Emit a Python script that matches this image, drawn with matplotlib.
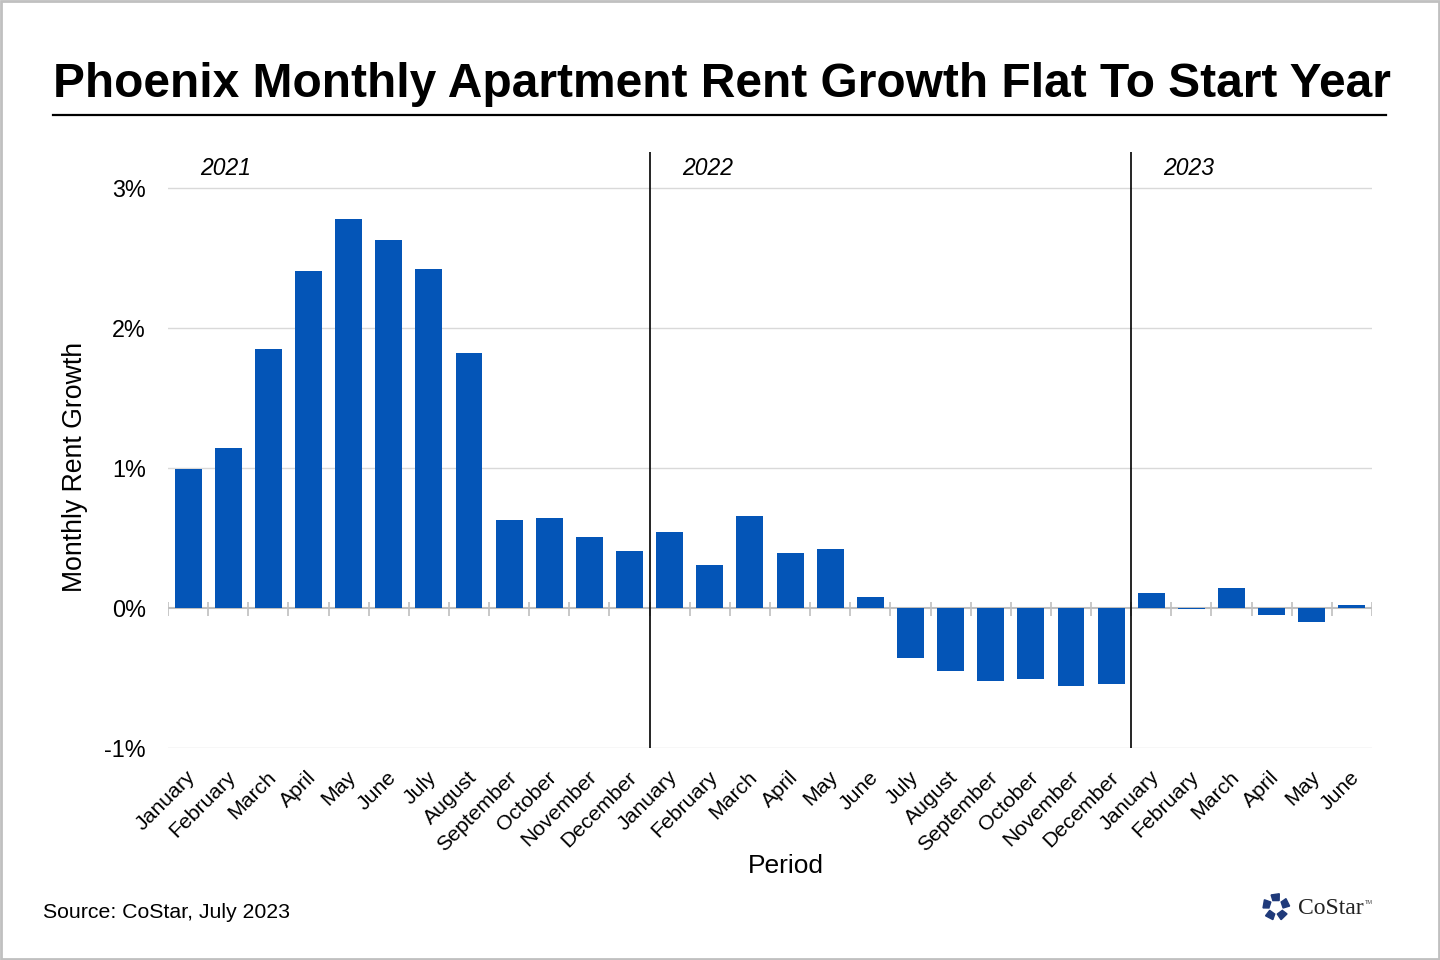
import numpy as np
import matplotlib.pyplot as plt
from matplotlib.patches import Polygon, Rectangle
from matplotlib.transforms import blended_transform_factory, ScaledTranslation

plt.rcParams['font.family'] = ['Liberation Sans', 'DejaVu Sans']

# Monthly rent growth, %, Jan 2021 - Jun 2023
months = ["January", "February", "March", "April", "May", "June",
          "July", "August", "September", "October", "November", "December"]
labels = months + months + months[:6]
growth_2021 = [0.99, 1.14, 1.85, 2.41, 2.78, 2.63, 2.42, 1.82, 0.63, 0.64, 0.51, 0.41]
growth_2022 = [0.54, 0.31, 0.66, 0.39, 0.42, 0.08, -0.36, -0.45, -0.52, -0.51, -0.56, -0.54]
growth_2023 = [0.11, -0.01, 0.14, -0.05, -0.10, 0.02]
years = ["2021", "2022", "2023"]
year_start = [0, 12, 24]

values = growth_2021 + growth_2022 + growth_2023
x = np.arange(len(values))

fig = plt.figure(figsize=(14.4, 9.6), dpi=100)
ax = fig.add_axes([168 / 1440, 1 - 748 / 960, (1372 - 168) / 1440, (748 - 152) / 960])

ax.bar(x, values, width=0.67, color="#0455b7", zorder=3)

ax.set_xlim(-0.5, len(values) - 0.5)
ax.set_ylim(-1, 3.257)
ax.set_yticks([-1, 0, 1, 2, 3])
ax.set_yticklabels(["-1%", "0%", "1%", "2%", "3%"])
for yv in [-1, 1, 2, 3]:
    ax.axhline(yv, color="#d9d9d9", lw=1, zorder=1)
ax.axhline(0, color="#bfbfbf", lw=1.5, zorder=2)

# small ticks on the zero line between categories
trans = blended_transform_factory(ax.transData, ax.transAxes)
ax.vlines(np.arange(len(values) + 1) - 0.5, 0.2215, 0.245, transform=trans,
          color="#bfbfbf", lw=1.2, zorder=2)

# year separators and year labels
for yr, s in zip(years, year_start):
    if s > 0:
        ax.axvline(s - 0.5, color="black", lw=1.2, zorder=4)
    ax.text(s + 0.3, 0.973, yr, transform=trans, fontsize=16.5, style="italic",
            ha="left", va="center")

for sp in ax.spines.values():
    sp.set_visible(False)

ax.set_xticks(x)
ax.set_xticklabels(labels, rotation=45, ha="right", rotation_mode="anchor", fontsize=15.3)
ax.tick_params(axis="x", length=0, pad=14)
ax.tick_params(axis="y", length=0, pad=16, labelsize=16.8)
off = ScaledTranslation(-2 / 100, 0, fig.dpi_scale_trans)
for lab in ax.get_xticklabels():
    lab.set_transform(lab.get_transform() + off)

fig.text(75 / 1440, 1 - 467 / 960, "Monthly Rent Growth", fontsize=19.2, rotation=90,
         ha="center", va="center")
fig.text(786 / 1440, 1 - 866 / 960, "Period", fontsize=19, ha="center", va="center")

# title and underline
fig.text(722 / 1440, 1 - 97 / 960, "Phoenix Monthly Apartment Rent Growth Flat To Start Year",
         fontsize=34.5, fontweight="bold", ha="center", va="baseline")
fig.add_artist(plt.Line2D([53 / 1440, 1386 / 1440], [1 - 115 / 960] * 2, color="black", lw=1.6))

fig.text(43 / 1440, 1 - 913 / 960, "Source: CoStar, July 2023", fontsize=15.3,
         ha="left", va="center")

# CoStar logo
cx, cy, r = 1276, 907, 13
for k in range(5):
    a = np.deg2rad(90 + 72 * k)
    pts = []
    for da, rr in [(-26, 0.55), (-14, 1.05), (22, 1.0), (26, 0.55)]:
        aa = a + np.deg2rad(da)
        pts.append(((cx + rr * r * np.cos(aa)) / 1440, 1 - (cy - rr * r * np.sin(aa)) / 960))
    fig.add_artist(Polygon(pts, closed=True, color="#1f3a7a", transform=fig.transFigure))
fig.text(1298 / 1440, 1 - 908 / 960, "CoStar", fontsize=17, family="Liberation Serif",
         ha="left", va="center", color="#222222")
fig.text(1365 / 1440, 1 - 902 / 960, "TM", fontsize=4, ha="left", va="center", color="#444444")

# frame
fig.add_artist(Rectangle((0.001, 0.001), 0.998, 0.998, fill=False, ec="#c0c0c0", lw=2,
                         transform=fig.transFigure))

fig.savefig("out.png", dpi=100, facecolor="white")
